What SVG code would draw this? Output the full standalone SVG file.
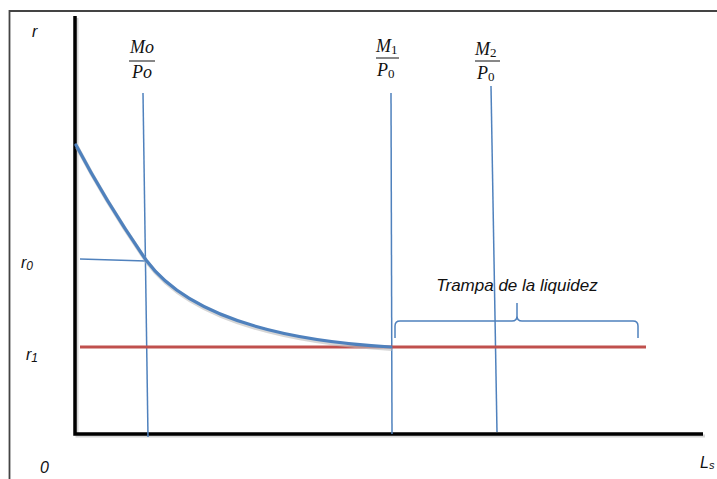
<svg xmlns="http://www.w3.org/2000/svg" width="717" height="479" viewBox="0 0 717 479">
<style>
.lbl{font-family:"Liberation Sans",Arial,sans-serif;font-style:italic;fill:#111;}
.math{font-family:"Liberation Serif","Times New Roman",serif;font-style:italic;font-size:18px;fill:#111;}
.sub{font-family:"Liberation Serif","Times New Roman",serif;font-style:normal;font-size:13px;fill:#111;}
.guide{stroke:#4f81bd;stroke-width:1.5;fill:none;}
.axis{stroke:#000;stroke-width:3.5;fill:none;}
.shadow{stroke:#bbb;stroke-opacity:0.6;fill:none;}
</style>
<rect x="0" y="0" width="717" height="479" fill="#fff"/>
<g id="frame">
<path d="M9.5,479 L9.5,11 L717,11" stroke="#444" stroke-width="1.8" fill="none"/>
</g>
<g id="axes">
<path class="shadow" stroke-width="3" d="M77,18 L77,436 L705,436"/>
<path class="axis" d="M75,16 L75,434 L703,434"/>
</g>
<g id="connectors">
<line class="guide" x1="143" y1="93" x2="148" y2="437"/>
<line class="guide" x1="391" y1="93" x2="392" y2="434"/>
<line class="guide" x1="491" y1="86" x2="497" y2="432"/>
<line class="guide" x1="80" y1="259" x2="146" y2="261"/>
<line x1="80" y1="347" x2="646" y2="347" stroke="#c0504d" stroke-width="3"/>
<path id="curve-shadow" class="shadow" stroke-width="4" d="M77,147 Q107,204 147,262 C186,315 271,342 392,349"/>
<path id="curve" d="M76,145 Q106,202 146,260 C185,313 270,340 391,347" stroke="#4f81bd" stroke-width="3.2" fill="none" stroke-linecap="round"/>
<path id="brace" class="guide" d="M395,338 L395,326 Q395,321 400,321 L512,321 Q517,321 517,316 L517,303 L517,316 Q517,321 522,321 L633,321 Q638,321 638,326 L638,338"/>
</g>
<g id="label-r"><text class="lbl" x="32" y="37" font-size="16">r</text></g>
<g id="label-r0"><text class="lbl" x="21" y="268" font-size="16">r<tspan font-size="12" dy="2">0</tspan></text></g>
<g id="label-r1"><text class="lbl" x="26" y="360" font-size="16">r<tspan font-size="12" dy="2">1</tspan></text></g>
<g id="label-origin"><text class="lbl" x="40" y="473" font-size="16">0</text></g>
<g id="label-Ls"><text class="lbl" x="700" y="468" font-size="16">L<tspan font-size="11" dy="1">s</tspan></text></g>
<g id="frac-Mo">
<text class="math" x="142" y="53" text-anchor="middle">Mo</text>
<line x1="129" y1="61" x2="155" y2="61" stroke="#111" stroke-width="1"/>
<text class="math" x="142" y="78" text-anchor="middle">Po</text>
</g>
<g id="frac-M1">
<text class="math" x="376" y="52">M<tspan class="sub" dy="2">1</tspan></text>
<line x1="376" y1="58" x2="399" y2="58" stroke="#111" stroke-width="1"/>
<text class="math" x="377" y="76">P<tspan class="sub" dy="2">0</tspan></text>
</g>
<g id="frac-M2">
<text class="math" x="475" y="55">M<tspan class="sub" dy="2">2</tspan></text>
<line x1="475" y1="61" x2="500" y2="61" stroke="#111" stroke-width="1"/>
<text class="math" x="477" y="79">P<tspan class="sub" dy="2">0</tspan></text>
</g>
<g id="label-trampa"><text class="lbl" x="517" y="291" font-size="17" text-anchor="middle">Trampa de la liquidez</text></g>
</svg>
